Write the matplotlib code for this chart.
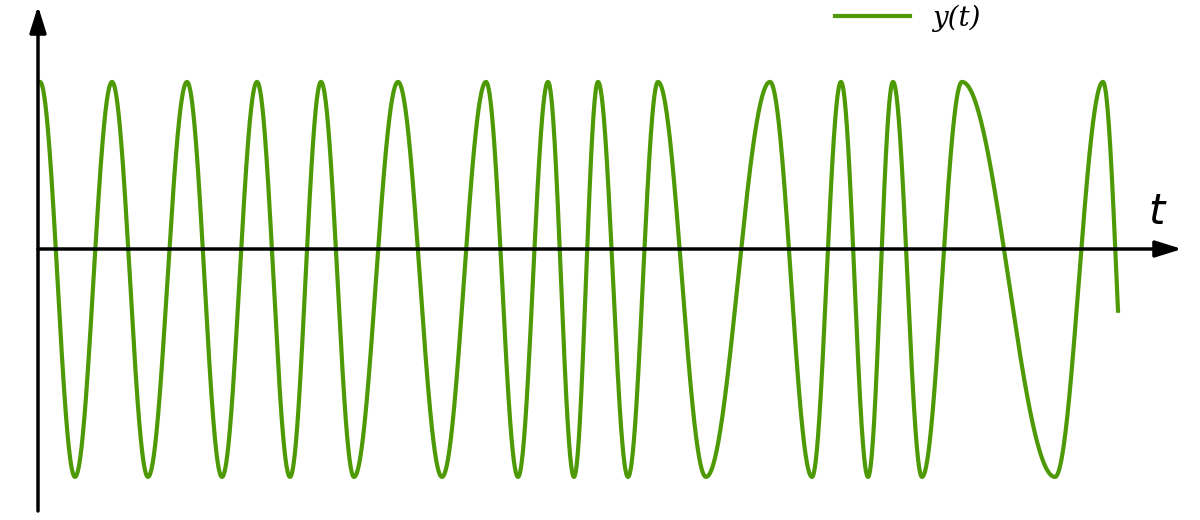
import numpy as np
import matplotlib
matplotlib.use("Agg")
import matplotlib.pyplot as plt

# extremum positions (pixel-like time units), alternating peak / trough
extrema_t = [40, 75, 112, 148, 187, 222, 257, 290, 321, 354, 398, 442, 486, 518,
             548, 574, 598, 628, 658, 706, 770, 812, 841, 868, 893, 922, 962,
             1055, 1103]
t_end = 1118
end_phase = 1.73  # phase advance after last peak (curve ends below centre)
amp = 1.0
offset = -0.154  # signal centre sits below the t axis

ext_phase = list(np.arange(len(extrema_t)) * np.pi)
t = np.linspace(extrema_t[0], t_end, 4000)
phase = np.interp(t, extrema_t + [t_end], ext_phase + [ext_phase[-1] + end_phase])
y = amp * np.cos(phase) + offset

fig = plt.figure(figsize=(12, 5.2), dpi=100)
ax = fig.add_axes([0, 0, 1, 1])
ax.set_xlim(0, 1200)
ax.set_ylim(-271 / 197.5, 249 / 197.5)
ax.axis("off")

ax.plot(t, y, color="#4e9a06", lw=3, label="y(t)")

ax.annotate("", xy=(1182, 0), xytext=(38, 0),
            arrowprops=dict(arrowstyle="-|>,head_length=1.6,head_width=0.5",
                            color="black", lw=2.5, shrinkA=0, shrinkB=0))
ax.annotate("", xy=(38, 243 / 197.5), xytext=(38, -262 / 197.5),
            arrowprops=dict(arrowstyle="-|>,head_length=1.6,head_width=0.5",
                            color="black", lw=2.5, shrinkA=0, shrinkB=0))
ax.text(1158, 0.08, "$t$", fontsize=30, ha="center", va="bottom")

leg = ax.legend(loc="upper left", bbox_to_anchor=(0.675, 1.04), frameon=False,
                prop=dict(family="DejaVu Serif", style="italic", size=20),
                handlelength=2.7)

fig.savefig("out.png", dpi=100)
